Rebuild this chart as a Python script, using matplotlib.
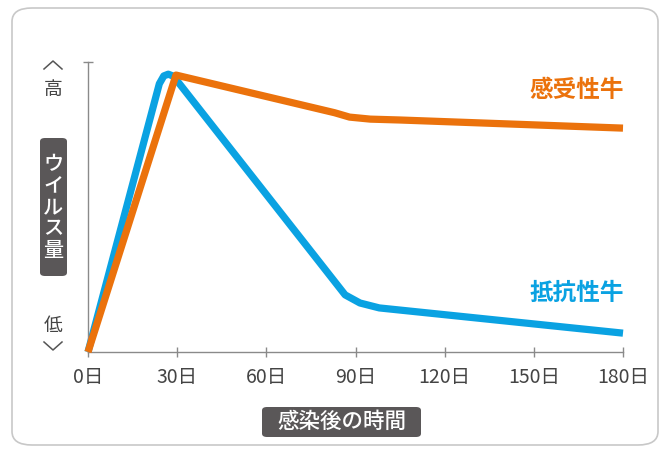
import matplotlib.pyplot as plt
from matplotlib.patches import FancyBboxPatch
from matplotlib.lines import Line2D

plt.rcParams['font.family'] = ['Noto Sans CJK JP', 'DejaVu Sans']

# data (days after infection, relative virus amount 0-100)
orange_days = [0, 29.6, 83, 88, 95, 105, 180]
orange_vals = [0, 95.5, 82.5, 81.0, 80.3, 80.0, 77.2]
blue_days = [0, 24, 25.5, 27, 28.5, 30, 86.5, 91.5, 98, 180]
blue_vals = [0, 92.5, 95.2, 95.8, 95.2, 93.5, 19.7, 16.9, 15.2, 6.5]
xticks = [0, 30, 60, 90, 120, 150, 180]
xtick_labels = [f"{d}日" for d in xticks]
ylabel_chars = ["ウ", "イ", "ル", "ス", "量"]

ORANGE = "#EB720C"
BLUE = "#0AA2E2"
AXIS = "#8a8a8a"
BOX = "#5a5758"

W, H = 665, 451
fig = plt.figure(figsize=(W / 100, H / 100), dpi=100)


def px(x, y):
    return x / W, 1 - y / H


def box(x0, y0, x1, y1, r):
    # rounded box in pixel coords (top-left origin)
    p = FancyBboxPatch(px(x0, y1), (x1 - x0) / W, (y1 - y0) / H,
                       boxstyle=f"round,pad=0,rounding_size={r / W}",
                       transform=fig.transFigure, facecolor=BOX,
                       edgecolor="none", zorder=1)
    fig.patches.append(p)


# rounded outer frame
frame = FancyBboxPatch(px(12, 445), 646 / W, 437 / H,
                       boxstyle="round,pad=0,rounding_size=0.03",
                       transform=fig.transFigure, facecolor="none",
                       edgecolor="#c8c8c8", linewidth=1.2, zorder=-1)
fig.patches.append(frame)

ax = fig.add_axes([88 / W, 1 - 352 / H, 535 / W, 290 / H])
ax.patch.set_alpha(0)

ax.plot(orange_days, orange_vals, color=ORANGE, lw=5.2,
        solid_joinstyle="round", solid_capstyle="butt", zorder=3, clip_on=False)
ax.plot(blue_days, blue_vals, color=BLUE, lw=5.2,
        solid_joinstyle="round", solid_capstyle="butt", zorder=2, clip_on=False)

ax.set_xlim(0, 180)
ax.set_ylim(0, 100)
for s in ["top", "right"]:
    ax.spines[s].set_visible(False)
for s in ["left", "bottom"]:
    ax.spines[s].set_color(AXIS)
    ax.spines[s].set_linewidth(1.0)

ax.set_xticks(xticks)
ax.set_xticklabels(xtick_labels, fontsize=14, color="#444444")
ax.tick_params(axis="x", direction="inout", length=7, width=1, color=AXIS, pad=7)
ax.set_yticks([100])
ax.set_yticklabels([])
ax.tick_params(axis="y", direction="inout", length=7, width=1, color=AXIS)

# series labels
ax.text(180.5, 90.3, "感受性牛", color=ORANGE, fontsize=17, fontweight="bold",
        ha="right", va="center")
ax.text(180.5, 20.3, "抵抗性牛", color=BLUE, fontsize=17, fontweight="bold",
        ha="right", va="center")

# y-axis hints
fig.text(*px(53.5, 90), "高", fontsize=13.5, color="#444444",
         ha="center", va="center")
fig.text(*px(53.5, 326), "低", fontsize=13.5, color="#444444",
         ha="center", va="center")
for pts in ([(44, 69), (53, 61), (62, 69)], [(44, 342), (53, 350), (62, 342)]):
    xs, ys = zip(*[px(*p) for p in pts])
    fig.add_artist(Line2D(xs, ys, transform=fig.transFigure, color="#555555",
                          lw=1.1))

# vertical y label in a dark box
box(40, 138, 67, 276, 5)
for i, ch in enumerate(ylabel_chars):
    fig.text(*px(53.5, 165 + i * 21.25), ch, fontsize=14.5, color="white",
             ha="center", va="center", fontweight="medium", zorder=2)

# x label in a dark box
box(262, 407, 421, 437, 5)
fig.text(*px(341.5, 422), "感染後の時間", fontsize=15.5, color="white",
         ha="center", va="center", fontweight="medium", zorder=2)

fig.savefig("out.png", dpi=100)
